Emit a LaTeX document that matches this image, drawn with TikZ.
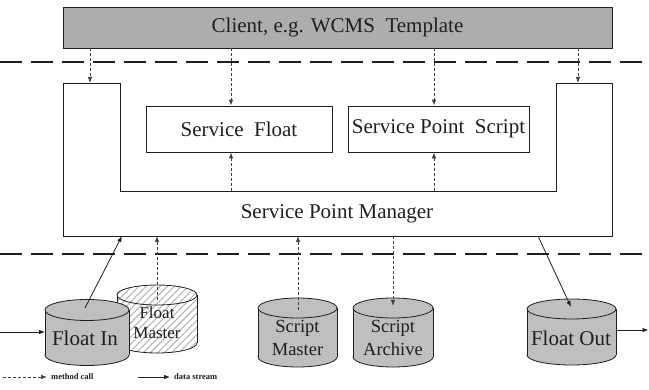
\documentclass[tikz,border=0pt]{standalone}
\usepackage{fontspec}
\setmainfont{Liberation Serif}
\usetikzlibrary{arrows.meta,patterns.meta}
\definecolor{ink}{gray}{0.12}
\definecolor{clientgray}{gray}{0.68}
\definecolor{cylgray}{gray}{0.75}
\newcommand\mycyl[6]{%
  \path[#6,draw=ink,line width=0.8pt] (#1,#3) ellipse[x radius=#4,y radius=#5];
  \path[#6] ({#1-#4},#2) rectangle ({#1+#4},#3);
  \draw[ink,line width=0.8pt] ({#1-#4},#2) -- ({#1-#4},#3) ({#1+#4},#2) -- ({#1+#4},#3);
  \path[#6,draw=ink,line width=0.8pt] (#1,#2) ellipse[x radius=#4,y radius=#5];
}
\begin{document}
\begin{tikzpicture}[x=1pt,y=-1pt,
  boxline/.style={draw=ink,line width=0.9pt},
  box/.style={boxline,fill=white,inner sep=0pt,text=ink,font=\fontsize{21}{24}\selectfont},
  clientbox/.style={box,fill=clientgray},
  bigtext/.style={text=ink,inner sep=0pt,font=\fontsize{21}{24}\selectfont},
  cyltext/.style={text=ink,inner sep=0pt,align=center,font=\fontsize{18.5}{23}\selectfont},
  legendtext/.style={text=ink,inner sep=0pt,anchor=west,font=\fontsize{8.5}{10}\selectfont\bfseries},
  sepline/.style={draw=ink,line width=2.8pt,dash pattern=on 22pt off 9pt},
  mcall/.style={draw=ink!85,line width=0.7pt,dash pattern=on 3pt off 2pt,-{Latex[length=6pt,width=4.5pt]}},
  dstream/.style={draw=ink,line width=0.8pt,-{Latex[length=6pt,width=4.5pt]}},
  cylfill/.style={fill=cylgray},
  hatchfill/.style={preaction={fill=white},pattern={Lines[angle=45,distance=5pt,line width=0.9pt]},pattern color=gray!65}
]
\useasboundingbox (0,0) rectangle (649,390);

% separators
\draw[sepline] (0,62) -- (649,62);
\draw[sepline] (0,254) -- (649,254);

% client
\node[clientbox,minimum width=549pt,minimum height=41pt] (client) at (337.5,27.5) {Client, e.g. WCMS~ Template};

% manager outline
\draw[boxline] (63,83) -- (120,83) -- (120,191) -- (556,191) -- (556,83) -- (612,83) -- (612,236) -- (63,236) -- cycle;
\node[bigtext] (spm) at (337,214) {Service Point Manager};

% inner services
\node[box,minimum width=186pt,minimum height=46pt] (sf) at (239,129) {Service~ Float};
\node[box,minimum width=181pt,minimum height=46pt] (sps) at (438.5,129) {Service Point~ Script};

% top method calls
\coordinate (lcol) at (90,83);
\coordinate (rcol) at (578,83);
\coordinate (sfb) at (231,191);
\coordinate (spsb) at (434,191);
\draw[mcall] (client.south -| lcol) -- (lcol);
\draw[mcall] (client.south -| rcol) -- (rcol);
\draw[mcall] (client.south -| sfb) -- (sf.north -| sfb);
\draw[mcall] (client.south -| spsb) -- (sps.north -| spsb);
\draw[mcall] (sfb) -- (sf.south -| sfb);
\draw[mcall] (spsb) -- (sps.south -| spsb);

% cylinders
\mycyl{157}{295}{343}{40}{10}{hatchfill}
\mycyl{87}{310}{355}{42}{10.5}{cylfill}
\mycyl{297.5}{308}{357}{39.5}{10}{cylfill}
\mycyl{393}{308}{357}{40}{10}{cylfill}
\mycyl{571.5}{309}{355}{44.5}{10}{cylfill}

\node[cyltext,font=\fontsize{17}{20}\selectfont] (fmt) at (157,323) {Float\\Master};
\node[bigtext] (fint) at (85,338) {Float In};
\node[cyltext] (smt) at (297.5,338) {Script\\Master};
\node[cyltext] (sat) at (393,338) {Script\\Archive};
\node[bigtext] (fot) at (571,338) {Float Out};

% bottom connectors
\coordinate (m1) at (122,236);
\coordinate (m2) at (157,236);
\coordinate (m3) at (298,236);
\coordinate (m4) at (393,236);
\coordinate (m5) at (538,236);
\coordinate (fin) at (85,308);
\coordinate (fm) at (157,300);
\coordinate (smc) at (298,310);
\coordinate (sac) at (393,306);
\coordinate (foc) at (571,307);
\draw[dstream] (fin) -- (m1);
\draw[mcall] (fm) -- (m2);
\draw[mcall] (smc) -- (m3);
\draw[mcall] (m4) -- (sac);
\draw[dstream] (m5) -- (foc);

\coordinate (inL) at (0,332);
\coordinate (finW) at (45,332);
\coordinate (foE) at (616,330);
\coordinate (outR) at (648.5,330);
\draw[dstream] (inL) -- (finW);
\draw[dstream] (foE) -- (outR);

% legend
\coordinate (lg1) at (3,377);
\coordinate (lg2) at (47,377);
\coordinate (lg3) at (138,377);
\coordinate (lg4) at (170,377);
\draw[mcall] (lg1) -- (lg2);
\node[legendtext] (lgm) at (51,377) {method call};
\draw[dstream] (lg3) -- (lg4);
\node[legendtext] (lgd) at (174,377) {data stream};
\end{tikzpicture}
\end{document}
